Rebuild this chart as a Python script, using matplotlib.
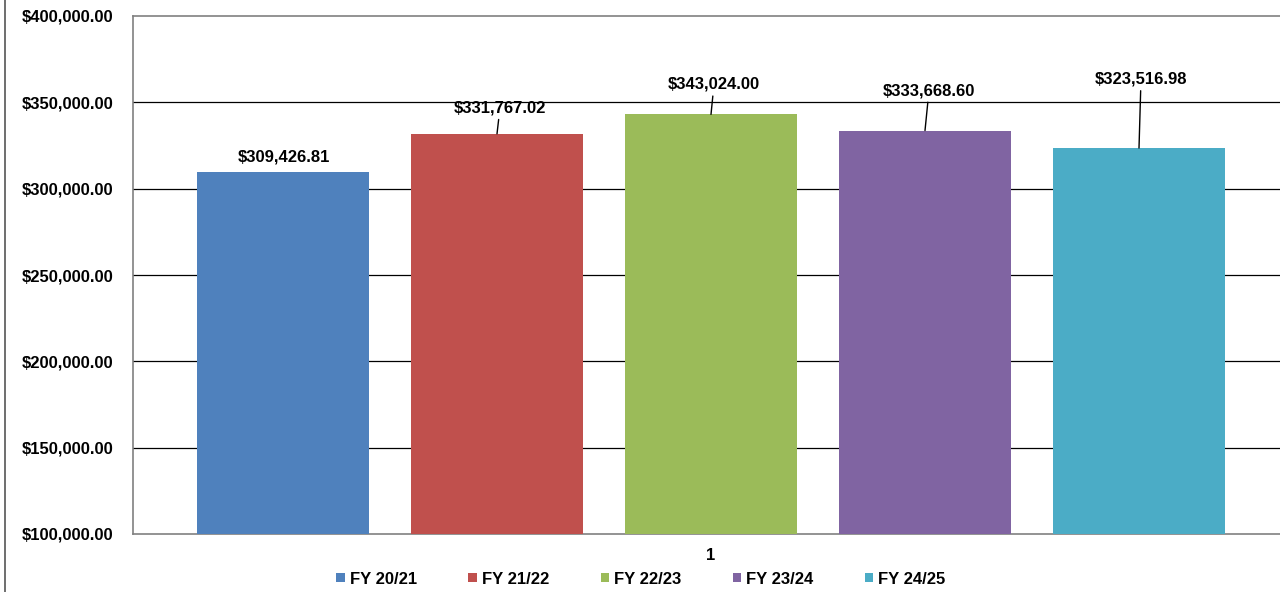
import matplotlib
matplotlib.use("Agg")
import matplotlib.pyplot as plt
from matplotlib.lines import Line2D
from matplotlib.patches import Patch

plt.rcParams['font.family'] = ['Liberation Sans', 'DejaVu Sans']
plt.rcParams['font.weight'] = 'bold'

categories = ["1"]
series = ["FY 20/21", "FY 21/22", "FY 22/23", "FY 23/24", "FY 24/25"]
values = [309426.81, 331767.02, 343024.00, 333668.60, 323516.98]
colors = ["#4F81BD", "#C0504D", "#9BBB59", "#8064A2", "#4BACC6"]
yticks = [100000, 150000, 200000, 250000, 300000, 350000, 400000]

# label offsets (pixels) relative to bar top centre, and whether to draw leader
label_off = [(1, 15), (3, 26), (3, 30), (4, 40), (2, 69)]
leader = [False, True, True, True, True]

fig = plt.figure(figsize=(12.8, 5.92), dpi=100)
W, H = 1280, 592
ax = fig.add_axes([133 / W, (H - 534) / H, (1289 - 133) / W, (534 - 16) / H])

group_w = 1156.0
bar_w = 172 / group_w
step = 214 / group_w
for i, (s, v, c) in enumerate(zip(series, values, colors)):
    x = (i - 2) * step
    ax.bar(x, v - yticks[0], bottom=yticks[0], width=bar_w, color=c, label=s, zorder=3)
    dx, dy = label_off[i]
    ap = dict(arrowstyle='-', color='black', lw=1, shrinkA=1, shrinkB=0) if leader[i] else None
    ax.annotate(f"${v:,.2f}", xy=(x, v), xytext=(dx, dy), textcoords='offset pixels',
                ha='center', va='center', fontsize=12, fontweight='bold',
                arrowprops=ap, zorder=4)

ax.set_xlim(-0.5, 0.5)
ax.set_ylim(yticks[0], yticks[-1])
ax.set_yticks(yticks)
ax.set_yticklabels([f"${t:,.2f}" for t in yticks])
ax.set_xticks([0])
ax.set_xticklabels(categories)
ax.tick_params(axis='y', length=0, pad=14.4, labelsize=12)
ax.tick_params(axis='x', length=0, pad=10, labelsize=12)
for t in yticks[1:-1]:
    ax.axhline(t, color='black', lw=0.9, zorder=1)

for side in ['left', 'top', 'bottom']:
    ax.spines[side].set_color('#808080')
    ax.spines[side].set_linewidth(1.2)
ax.spines['right'].set_visible(False)

handles = [Patch(facecolor=c, edgecolor='none') for c in colors]
fig.legend(handles, series, loc='center', bbox_to_anchor=(641 / W, 1 - 579 / H), ncol=5,
           frameon=False, fontsize=12, handlelength=0.5, handleheight=0.5,
           handletextpad=0.3, columnspacing=3.1, borderaxespad=0, borderpad=0)

fig.add_artist(Line2D([4.5 / W, 4.5 / W], [0, 1], transform=fig.transFigure,
                      color='#555555', lw=1.2))

fig.savefig("out.png", dpi=100)
